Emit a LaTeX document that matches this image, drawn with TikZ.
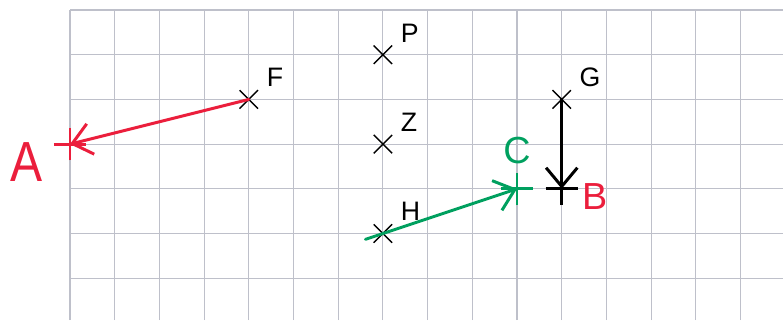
\documentclass[tikz,border=0pt]{standalone}
\usepackage{fontspec}
\setsansfont{Liberation Sans}
\usetikzlibrary{positioning,arrows.meta,calc,shapes.misc}
\definecolor{penred}{RGB}{235,30,60}
\definecolor{pengreen}{RGB}{0,160,95}
\definecolor{gridgray}{RGB}{190,192,202}
\tikzset{
  gridline/.style={gridgray, line width=0.7pt},
  pointmark/.style={cross out, draw=black, line width=0.9pt, minimum size=3.8mm, inner sep=0pt},
  endmark/.style={cross out, rotate=45, line width=1.8pt, minimum size=4.5mm, inner sep=0pt},
  ptlbl/.style={font=\sffamily\fontsize{17}{17}\selectfont, inner sep=0pt},
  handlbl/.style={font=\sffamily\fontsize{24}{24}\selectfont, inner sep=0pt},
  vecarrow/.style={-{Straight Barb[length=4.2mm,width=7mm]}, line width=1.9pt, line cap=round}
}
\begin{document}
\begin{tikzpicture}
\useasboundingbox (-1.566,0.224) rectangle (15.95,-6.935);
\draw[gridline] (0,-6.935) grid (15.95,0);
% marked points
\node[pointmark] (F) at (4,-2) {};
\node[pointmark] (P) at (7,-1) {};
\node[pointmark] (Z) at (7,-3) {};
\node[pointmark] (H) at (7,-5) {};
\node[pointmark] (G) at (11,-2) {};
\node[ptlbl, above right=0.07cm and 0.19cm of F] (lF) {F};
\node[ptlbl, above right=0.07cm and 0.19cm of P] (lP) {P};
\node[ptlbl, above right=0.07cm and 0.19cm of Z] (lZ) {Z};
\node[ptlbl, above right=0.07cm and 0.19cm of H] (lH) {H};
\node[ptlbl, above right=0.07cm and 0.19cm of G] (lG) {G};
% end points of the vectors
\node[endmark, draw=penred] (A) at (0,-3) {};
\node[endmark, draw=black] (B) at (11,-4) {};
\node[endmark, draw=pengreen] (C) at (10,-4) {};
\node[handlbl, text=penred, font=\sffamily\fontsize{36}{36}\selectfont, xscale=0.85, left=0.6cm of A.center, yshift=-0.4cm] (lA) {A};
\node[handlbl, text=penred, right=0.45cm of B.center, yshift=-0.18cm] (lB) {B};
\node[handlbl, text=pengreen, above=0.55cm of C.center] (lC) {C};
\draw[vecarrow, penred] (F.center) -- (A.center);
\draw[vecarrow, black] (G.center) -- (B.center);
\draw[vecarrow, pengreen] ($(H.center)!-0.13!(C.center)$) -- (C.center);
\end{tikzpicture}
\end{document}
